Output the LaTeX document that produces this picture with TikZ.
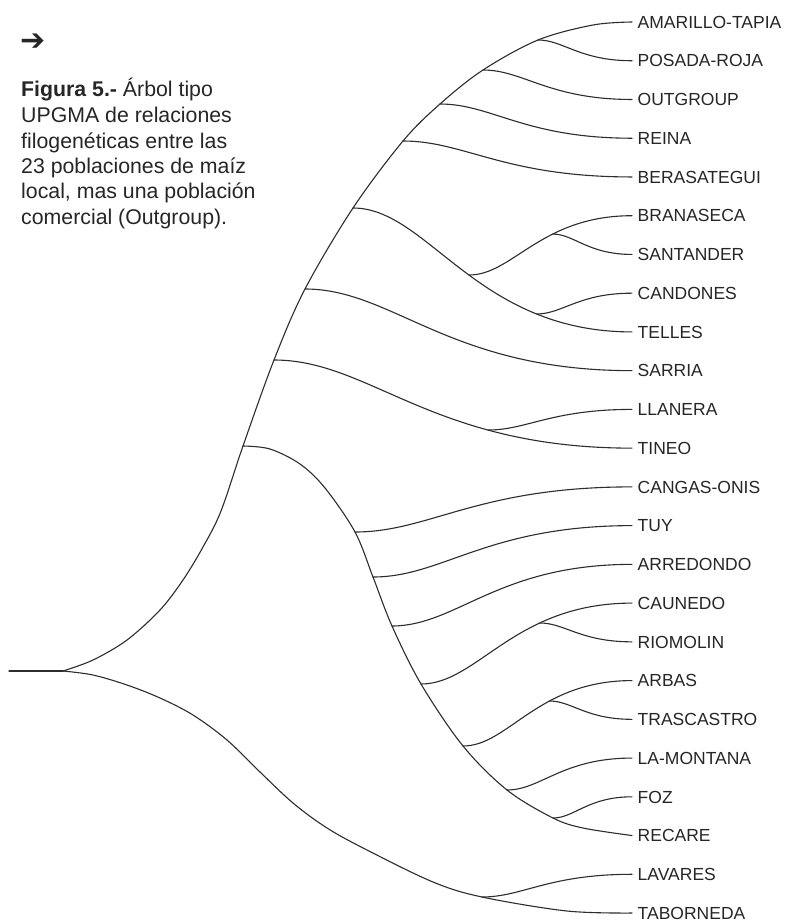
\documentclass[tikz,border=0pt]{standalone}
\usepackage{fontspec}
\setmainfont{Liberation Sans}
\newfontfamily\arrowfont{DejaVu Sans}
\usetikzlibrary{calc}
\definecolor{ln}{RGB}{45,45,45}
\definecolor{tx}{RGB}{38,38,38}
\begin{document}
\begin{tikzpicture}[x=1pt,y=-1pt,
  br/.style={draw=ln, line width=1.1pt, line cap=round, line join=round},
  leaf/.style={anchor=west, inner xsep=5.5pt, inner ysep=0pt, text height=12.5pt, text depth=0pt,
    font=\fontsize{17.5}{20}\selectfont, text=tx},
  capline/.style={anchor=base west, inner sep=0pt, font=\fontsize{21.3}{25.5}\selectfont, text=tx},
  sig/.style={to path={let \p1=(\tikztostart), \p2=(\tikztotarget), \n1={\x2-\x1} in
    .. controls +(0.27*\n1,0) and +(-0.56*\n1,0) .. (\tikztotarget) \tikztonodes}}]
\fill[white] (0,0) rectangle (787,923);
\useasboundingbox (0,0) rectangle (787,923);

% caption
\node[anchor=west, inner sep=0pt, font=\arrowfont\fontsize{30}{30}\selectfont, text=tx] (arr) at (20,42.7) {➔};
\node[capline] (c1) at (21,97) {\textbf{Figura 5.-} Árbol tipo};
\node[capline] (c2) at (21,122.5) {UPGMA de relaciones};
\node[capline] (c3) at (21,148) {filogenéticas entre las};
\node[capline] (c4) at (21,173.4) {23 poblaciones de maíz};
\node[capline] (c5) at (21,198.9) {local, mas una población};
\node[capline] (c6) at (21,224.4) {comercial (Outgroup).};

% leaves
\foreach \i/\t in {0/AMARILLO-TAPIA,1/POSADA-ROJA,2/OUTGROUP,3/REINA,4/BERASATEGUI,
  5/BRANASECA,6/SANTANDER,7/CANDONES,8/TELLES,9/SARRIA,10/LLANERA,11/TINEO,
  12/CANGAS-ONIS,13/TUY,14/ARREDONDO,15/CAUNEDO,16/RIOMOLIN,17/ARBAS,18/TRASCASTRO,
  19/LA-MONTANA,20/FOZ,21/RECARE,22/LAVARES,23/TABORNEDA}
  \node[leaf] (n\i) at (632,{22+38.74*\i}) {\t};

% internal nodes
\coordinate (S) at (9,671);
\coordinate (R) at (63,671);
\coordinate (A) at (243,446);
\coordinate (B1) at (274,360);
\coordinate (B2) at (305,289);
\coordinate (B3) at (353,208);
\coordinate (B4) at (403,141);
\coordinate (B5) at (440,104);
\coordinate (B6) at (483,70);
\coordinate (B7) at (538,40);
\coordinate (L1) at (355,532);
\coordinate (L2) at (373,577);
\coordinate (L3) at (392,626);
\coordinate (L4) at (421,684);
\coordinate (L5) at (463,746);
\coordinate (L6) at (507,790);
\coordinate (L7) at (553,818);
\coordinate (LT) at (482,897);

% root
\draw[br] (S) -- (R);
% main chains
\draw[br] plot[smooth, tension=0.55] coordinates {(R) (93,660) (127,640) (160,610) (183,580) (203,547) (221,511) (A) (B1) (B2) (B3) (B4) (B5) (B6) (B7) (593,25) (n0.west)};
\draw[br] plot[smooth, tension=0.55] coordinates {(R) (93,675) (127,685) (160,698) (193,715) (227,740) (260,772) (293,803) (327,828) (367,850) (433,882) (LT) (567,911) (n23.west)};
\draw[br] plot[smooth, tension=0.55] coordinates {(A) (270,449) (300,464) (325,488) (L1) (L2) (L3) (L4) (L5) (L6) (L7) (583,828) (n21.west)};

% sub chains
\draw[br] (B3) to[sig] node[coordinate, pos=0.5273] (C1) {} node[coordinate, pos=0.7605] (C3) {} (n8.west);
\draw[br] (C1) to[sig] node[coordinate, pos=0.63] (C2) {} (n5.west);
\draw[br] (B1) to[sig] node[coordinate, pos=0.7085] (E1) {} (n11.west);
\draw[br] (L4) to[sig] node[coordinate, pos=0.677] (D1) {} (n15.west);
\draw[br] (L5) to[sig] node[coordinate, pos=0.628] (F1) {} (n17.west);

% single branches
\draw[br] (B7) to[sig] (n1.west);
\draw[br] (B6) to[sig] (n2.west);
\draw[br] (B5) to[sig] (n3.west);
\draw[br] (B4) to[sig] (n4.west);
\draw[br] (C2) to[sig] (n6.west);
\draw[br] (C3) to[sig] (n7.west);
\draw[br] (B2) to[sig] (n9.west);
\draw[br] (E1) to[sig] (n10.west);
\draw[br] (L1) to[sig] (n12.west);
\draw[br] (L2) to[sig] (n13.west);
\draw[br] (L3) to[sig] (n14.west);
\draw[br] (D1) to[sig] (n16.west);
\draw[br] (F1) to[sig] (n18.west);
\draw[br] (L6) to[sig] (n19.west);
\draw[br] (L7) to[sig] (n20.west);
\draw[br] (LT) to[sig] (n22.west);
\end{tikzpicture}
\end{document}
